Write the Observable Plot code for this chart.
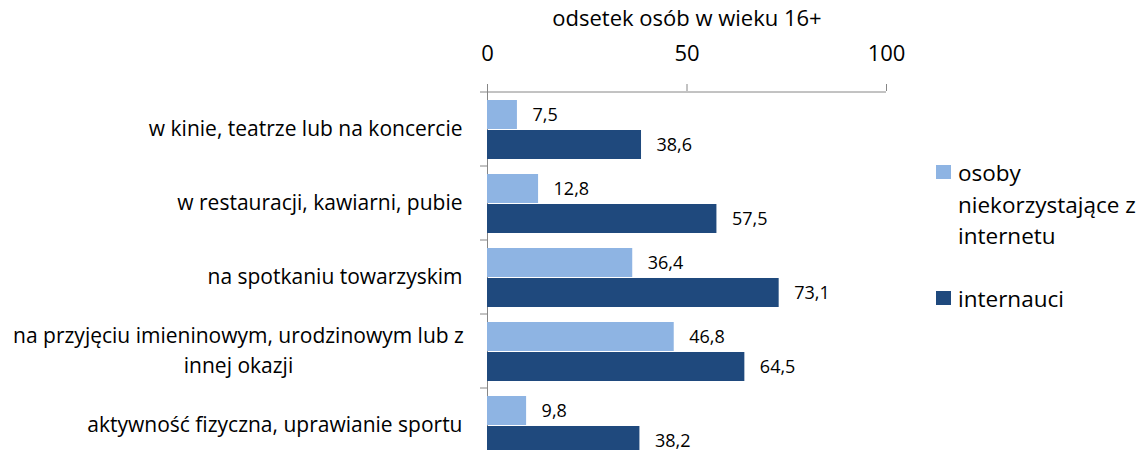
<!DOCTYPE html>
<html>
<head>
<meta charset="utf-8">
<script src="https://cdn.jsdelivr.net/npm/d3@7"></script>
<script src="https://cdn.jsdelivr.net/npm/@observablehq/plot@0.6"></script>
<style>
  html, body { margin: 0; padding: 0; background: #fff; }
  #wrap { position: relative; width: 1144px; height: 450px; overflow: hidden; font-family: "Open Sans", Lato, sans-serif; }
  #legend { position: absolute; left: 936px; top: 157px; font-size: 22.5px; color: #000; }
  .item { position: relative; padding-left: 22px; line-height: 31.5px; white-space: nowrap; }
  .sw { position: absolute; left: 0; top: 8px; width: 15px; height: 14px; }
</style>
</head>
<body>
<div id="wrap"><div id="legend"></div></div>
<script>
const categories = [
  "w kinie, teatrze lub na koncercie",
  "w restauracji, kawiarni, pubie",
  "na spotkaniu towarzyskim",
  "na przyjęciu imieninowym, urodzinowym lub z innej okazji",
  "aktywność fizyczna, uprawianie sportu"
];
const wrappedLabels = {
  "na przyjęciu imieninowym, urodzinowym lub z innej okazji": "na przyjęciu imieninowym, urodzinowym lub z\ninnej okazji"
};
const seriesNames = ["osoby niekorzystające z internetu", "internauci"];
const legendLines = [["osoby", "niekorzystające z", "internetu"], ["internauci"]];
const nonUsers = [7.5, 12.8, 36.4, 46.8, 9.8];
const internetUsers = [38.6, 57.5, 73.1, 64.5, 38.2];
const xTicks = [0, 50, 100];
const axisTitle = "odsetek osób w wieku 16+";
const colors = ["#8EB4E3", "#1F497D"];

const data = [];
categories.forEach((c, i) => {
  data.push({category: c, series: seriesNames[0], value: nonUsers[i]});
  data.push({category: c, series: seriesNames[1], value: internetUsers[i]});
});
const s0 = data.filter(d => d.series === seriesNames[0]);
const s1 = data.filter(d => d.series === seriesNames[1]);
const fmt = d => d.value.toFixed(1).replace(".", ",");
const singleCats = categories.filter(c => !wrappedLabels[c]);
const wrappedCats = categories.filter(c => wrappedLabels[c]);
const grey = "#868686";
const fs = 21;

const chart = Plot.plot({
  width: 1144,
  height: 450,
  marginTop: 90,
  marginBottom: -13,
  marginLeft: 487,
  marginRight: 258,
  style: {fontFamily: "'Open Sans', Lato, sans-serif", color: "#000", background: "transparent"},
  x: {domain: [0, 100], axis: null},
  y: {domain: categories, padding: 0, axis: null},
  marks: [
    Plot.axisX(xTicks, {anchor: "top", tickSize: 7, tickPadding: 23, fontSize: 22, stroke: grey, fill: "#000",
      label: axisTitle, labelAnchor: "center", labelArrow: "none", labelOffset: 80}),
    Plot.ruleY([categories[0]], {dy: -37.5, stroke: grey}),
    Plot.ruleX([0], {stroke: grey}),
    Plot.axisY({tickSize: 7, text: null, label: null, dy: -37.5, stroke: grey}),
    Plot.axisY(singleCats, {tickSize: 0, tickPadding: 25, fontSize: fs, fill: "#000", label: null}),
    Plot.axisY(wrappedCats, {tickSize: 0, tickPadding: 0, textAnchor: "middle", dx: -249, dy: -3, fontSize: fs, fill: "#000",
      lineHeight: 1.43, label: null, tickFormat: c => wrappedLabels[c]}),
    Plot.barX(s0, {x: "value", y: "category", fill: colors[0], insetTop: 8, insetBottom: 37}),
    Plot.barX(s1, {x: "value", y: "category", fill: colors[1], insetTop: 38, insetBottom: 7}),
    Plot.text(s0, {x: "value", y: "category", text: fmt, textAnchor: "start", dx: 15, dy: -14.5, fontSize: 18, fill: "#000"}),
    Plot.text(s1, {x: "value", y: "category", text: fmt, textAnchor: "start", dx: 15, dy: 15.5, fontSize: 18, fill: "#000"})
  ]
});
document.getElementById("wrap").prepend(chart);

const legend = document.getElementById("legend");
seriesNames.forEach((name, i) => {
  const item = document.createElement("div");
  item.className = "item";
  item.style.marginBottom = i === 0 ? "31px" : "0";
  const sw = document.createElement("span");
  sw.className = "sw";
  sw.style.background = colors[i];
  item.appendChild(sw);
  item.insertAdjacentHTML("beforeend", legendLines[i].join("<br>"));
  legend.appendChild(item);
});
</script>
</body>
</html>
